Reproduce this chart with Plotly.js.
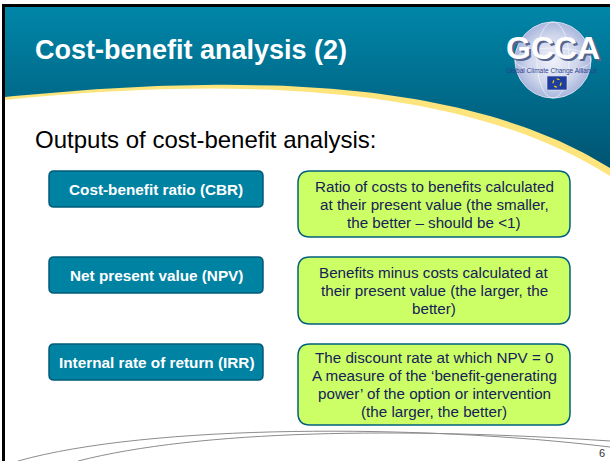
<!DOCTYPE html>
<html><head><meta charset="utf-8">
<script src="https://cdn.plot.ly/plotly-3.0.1.min.js"></script>
<style>html,body{margin:0;padding:0;background:#fff;overflow:hidden}#slide{width:610px;height:461px}</style>
</head><body><div id="slide"></div>
<script>
// ---- content ----
const slideTitle = "Cost-benefit analysis (2)";
const subtitle = "Outputs of cost-benefit analysis:";
const measures = ["Cost-benefit ratio (CBR)", "Net present value (NPV)", "Internal rate of return (IRR)"];
const descriptions = [
  ["Ratio of costs to benefits calculated", "at their present value (the smaller,", "the better \u2013 should be &lt;1)"],
  ["Benefits minus costs calculated at", "their present value (the larger, the", "better)"],
  ["The discount rate at which NPV = 0", "A measure of the \u2018benefit-generating", "power\u2019 of the option or intervention", "(the larger, the better)"]
];
const logoText = "GCCA";
const logoTagline = "Global Climate Change Alliance";
const pageNumber = "6";

// ---- layout geometry ----
const W = 610, H = 461;
const FONT = '"Liberation Sans", Arial, Helvetica, sans-serif';
const leftBox = {x0: 49, x1: 263};
const rightBox = {x0: 298, x1: 570};
const leftRows = [[171, 207], [257, 293], [344, 380]];
const rightRows = [[171, 237], [257, 324], [344, 425]];
const lineGap = 18;

function bez(p0, p1, p2, p3, n) {
  const pts = [];
  for (let i = 0; i <= n; i++) {
    const t = i / n, u = 1 - t;
    pts.push([
      u*u*u*p0[0] + 3*u*u*t*p1[0] + 3*u*t*t*p2[0] + t*t*t*p3[0],
      u*u*u*p0[1] + 3*u*u*t*p1[1] + 3*u*t*t*p2[1] + t*t*t*p3[1]
    ]);
  }
  return pts;
}
function rr(x0, y0, x1, y1, r) {
  return `M${x0+r},${y0} L${x1-r},${y0} Q${x1},${y0} ${x1},${y0+r} L${x1},${y1-r} Q${x1},${y1} ${x1-r},${y1} ` +
         `L${x0+r},${y1} Q${x0},${y1} ${x0},${y1-r} L${x0},${y0+r} Q${x0},${y0} ${x0+r},${y0} Z`;
}

// header polygon
const curve = bez([610, 168], [470, 80], [250, 72], [5, 97], 80);
const hx = [5, 610].concat(curve.map(p => p[0]));
const hy = [7, 7].concat(curve.map(p => p[1]));

// globe
const gc = {x: 553, y: 60, r: 38};
const gx = [], gy = [];
for (let i = 0; i <= 96; i++) {
  const a = i / 96 * 2 * Math.PI;
  gx.push(gc.x + gc.r * Math.cos(a));
  gy.push(gc.y + gc.r * Math.sin(a));
}

const traces = [
  {type: 'scatter', mode: 'lines', x: hx, y: hy, fill: 'toself', line: {width: 0, color: 'rgba(0,0,0,0)'},
   fillgradient: {type: 'vertical', start: 168, stop: 7, colorscale: [[0, '#005472'], [1, '#0086a8']]},
   hoverinfo: 'skip', showlegend: false},
  {type: 'scatter', mode: 'lines', x: gx, y: gy, fill: 'toself', line: {width: 1, color: '#d9def0'},
   fillgradient: {type: 'radial', colorscale: [[0, '#f0f2fa'], [0.65, '#cfd6ec'], [1, '#a9b6dc']]},
   hoverinfo: 'skip', showlegend: false}
];

const shapes = [];
// yellow swoosh under header
shapes.push({type: 'path', layer: 'below', xref: 'x', yref: 'y',
  path: 'M5,7 L610,7 L610,176 C470,87 250,75 5,100 Z', fillcolor: '#fde47c', line: {width: 0}});
// globe grid lines
shapes.push({type: 'circle', xref: 'x', yref: 'y', x0: gc.x - 16, x1: gc.x + 16, y0: gc.y - gc.r, y1: gc.y + gc.r,
  line: {color: 'rgba(255,255,255,0.55)', width: 1}});
shapes.push({type: 'circle', xref: 'x', yref: 'y', x0: gc.x - gc.r, x1: gc.x + gc.r, y0: gc.y - 12, y1: gc.y + 12,
  line: {color: 'rgba(255,255,255,0.55)', width: 1}});
// EU flag
shapes.push({type: 'rect', xref: 'x', yref: 'y', x0: 547, x1: 567, y0: 76, y1: 90, fillcolor: '#1f3d9e',
  line: {color: '#e0e6f5', width: 0.6}});
shapes.push({type: 'circle', xref: 'x', yref: 'y', x0: 553, x1: 561, y0: 79, y1: 87,
  line: {color: '#ffdc00', width: 1.2, dash: 'dot'}});
// boxes
leftRows.forEach(r => shapes.push({type: 'path', xref: 'x', yref: 'y', path: rr(leftBox.x0, r[0], leftBox.x1, r[1], 5),
  fillcolor: '#0082a3', line: {color: '#005b79', width: 1.5}}));
rightRows.forEach(r => shapes.push({type: 'path', xref: 'x', yref: 'y', path: rr(rightBox.x0, r[0], rightBox.x1, r[1], 12),
  fillcolor: '#ccff66', line: {color: '#00607e', width: 1.5}}));
// bottom arcs
shapes.push({type: 'path', xref: 'x', yref: 'y', path: 'M18,461 C150,424 420,424 610,447', line: {color: '#8c8c8c', width: 1}});
shapes.push({type: 'path', xref: 'x', yref: 'y', path: 'M78,461 C200,430 400,427 610,441', line: {color: '#8c8c8c', width: 1}});
// slide frame
shapes.push({type: 'rect', xref: 'x', yref: 'y', x0: 2, x1: 5, y0: 4, y1: 461, fillcolor: '#000', line: {width: 0}});
shapes.push({type: 'rect', xref: 'x', yref: 'y', x0: 2, x1: 610, y0: 4, y1: 7, fillcolor: '#000', line: {width: 0}});

const ann = [];
function A(text, x, y, size, color, opts) {
  ann.push(Object.assign({text, x, y, xref: 'x', yref: 'y', showarrow: false, xanchor: 'center', yanchor: 'middle',
    font: {family: FONT, size, color}}, opts || {}));
}
A(slideTitle, 33, 50, 27, '#ffffff', {xanchor: 'left', font: {family: FONT, size: 27, color: '#ffffff', weight: 700}});
A(logoText, 553, 48, 32, '#ffffff', {font: {family: FONT, size: 32, color: '#ffffff', weight: 700,
  shadow: '2px 2px 0px #56648e'}});
A(logoTagline, 552, 70.5, 6.5, '#2b3f8f');
A(subtitle, 33, 139.5, 24, '#000000', {xanchor: 'left'});
measures.forEach((m, i) => {
  const r = leftRows[i];
  A(m, (leftBox.x0 + leftBox.x1) / 2, (r[0] + r[1]) / 2, 15.3, '#ffffff',
    {font: {family: FONT, size: 15.3, color: '#ffffff', weight: 700}});
});
descriptions.forEach((lines, i) => {
  const r = rightRows[i];
  const cy = (r[0] + r[1]) / 2;
  lines.forEach((ln, j) => {
    A(ln, (rightBox.x0 + rightBox.x1) / 2, cy + (j - (lines.length - 1) / 2) * lineGap, 15.2, '#16215a');
  });
});
A(pageNumber, 602, 453, 11, '#333333');

const layout = {
  width: W, height: H, autosize: false,
  margin: {l: 0, r: 0, t: 0, b: 0, pad: 0},
  paper_bgcolor: '#ffffff', plot_bgcolor: '#ffffff',
  xaxis: {range: [0, W], visible: false, fixedrange: true},
  yaxis: {range: [H, 0], visible: false, fixedrange: true},
  showlegend: false, hovermode: false,
  shapes, annotations: ann
};
Plotly.newPlot('slide', traces, layout, {staticPlot: true, displayModeBar: false});
</script></body></html>
